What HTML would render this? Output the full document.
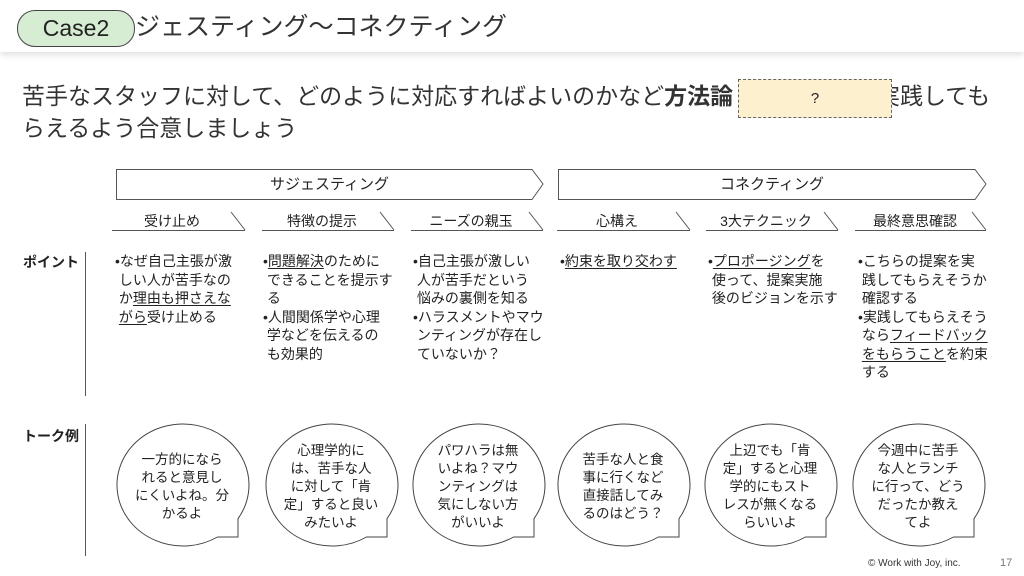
<!DOCTYPE html>
<html><head><meta charset="utf-8"><style>
body{margin:0;width:1024px;height:576px;overflow:hidden;background:#fff;font-family:"Liberation Sans","Noto Sans CJK JP",sans-serif;color:#222;position:relative}
.a{position:absolute}
.hdr{left:0;top:0;width:1024px;height:52px;background:#fff;box-shadow:0 3px 6px rgba(0,0,0,.12)}
.t{font-size:14px;line-height:18.5px;white-space:nowrap}
u{text-decoration:underline;text-underline-offset:2px}
.b{font-size:13.5px;line-height:18px;text-align:center;white-space:nowrap}
</style></head><body>
<div class="a hdr"></div>
<div class="a" style="left:110px;top:9px;font-size:25px;line-height:36px;color:#333;white-space:nowrap">サジェスティング～コネクティング</div>
<div class="a" style="left:17px;top:10px;width:116px;height:35px;border:1px solid #444;border-radius:18px;background:#d6ecd3;font-size:23px;line-height:35px;text-align:center;color:#222">Case2</div>
<div class="a" style="left:22px;top:80px;font-size:23px;line-height:32px;color:#333;white-space:nowrap">苦手なスタッフに対して、どのように対応すればよいのかなど<b>方法論</b><br>らえるよう合意しましょう</div>
<div class="a" style="left:877px;top:80px;font-size:23px;line-height:32px;color:#333;white-space:nowrap">実践しても</div>
<div class="a" style="left:738px;top:79px;width:152px;height:37px;border:1px dashed #666;background:#fdf0cf;font-size:15px;line-height:37px;text-align:center">?</div>
<svg class="a" style="left:0;top:0" width="1024" height="576">
<g fill="none" stroke="#555" stroke-width="1">
<path d="M116.5 169.5H532L543 184L532 199.5H116.5Z"/>
<path d="M558.5 169.5H975L986 184L975 199.5H558.5Z"/>
<path d="M112 230.5H245M231 212L245 230"/>
<path d="M262 230.5H394M380 212L394 230"/>
<path d="M411 230.5H543M529 212L543 230"/>
<path d="M557 230.5H690M676 212L690 230"/>
<path d="M706 230.5H838M824 212L838 230"/>
<path d="M855 230.5H986M972 212L986 230"/>
<path d="M85.5 252V396M85.5 424V556"/>
</g>
<g fill="#fff" stroke="#444" stroke-width="1">
<path d="M238 518.7A66 61 0 1 0 217.5 537L238 537Z"/>
<path d="M387 518.7A66 61 0 1 0 366.5 537L387 537Z"/>
<path d="M534 518.7A66 61 0 1 0 513.5 537L534 537Z"/>
<path d="M679 518.7A66 61 0 1 0 658.5 537L679 537Z"/>
<path d="M826 518.7A66 61 0 1 0 805.5 537L826 537Z"/>
<path d="M974 518.7A66 61 0 1 0 953.5 537L974 537Z"/>
</g>
</svg>
<div class="a" style="left:116px;top:169px;width:427px;line-height:31px;text-align:center;font-size:15px">サジェスティング</div>
<div class="a" style="left:558px;top:169px;width:428px;line-height:31px;text-align:center;font-size:15px">コネクティング</div>
<div class="a" style="left:112px;top:211px;width:120px;text-align:center;font-size:14px">受け止め</div>
<div class="a" style="left:262px;top:211px;width:120px;text-align:center;font-size:14px">特徴の提示</div>
<div class="a" style="left:411px;top:211px;width:120px;text-align:center;font-size:14px">ニーズの親玉</div>
<div class="a" style="left:557px;top:211px;width:120px;text-align:center;font-size:14px">心構え</div>
<div class="a" style="left:706px;top:211px;width:120px;text-align:center;font-size:14px">3大テクニック</div>
<div class="a" style="left:855px;top:211px;width:120px;text-align:center;font-size:14px">最終意思確認</div>
<div class="a t" style="left:23px;top:253px;font-weight:bold">ポイント</div>
<div class="a t" style="left:23px;top:427px;font-weight:bold">トーク例</div>
<div class="a t" style="left:115px;top:252px">•なぜ自己主張が激<br>&nbsp;しい人が苦手なの<br>&nbsp;か<u>理由も押さえな</u><br>&nbsp;<u>がら</u>受け止める</div>
<div class="a t" style="left:263px;top:252px">•<u>問題解決</u>のために<br>&nbsp;できることを提示す<br>&nbsp;る<br>•人間関係学や心理<br>&nbsp;学などを伝えるの<br>&nbsp;も効果的</div>
<div class="a t" style="left:413px;top:252px">•自己主張が激しい<br>&nbsp;人が苦手だという<br>&nbsp;悩みの裏側を知る<br>•ハラスメントやマウ<br>&nbsp;ンティングが存在し<br>&nbsp;ていないか？</div>
<div class="a t" style="left:560px;top:252px">•<u>約束を取り交わす</u></div>
<div class="a t" style="left:708px;top:252px">•<u>プロポージング</u>を<br>&nbsp;使って、提案実施<br>&nbsp;後のビジョンを示す</div>
<div class="a t" style="left:858px;top:252px">•こちらの提案を実<br>&nbsp;践してもらえそうか<br>&nbsp;確認する<br>•実践してもらえそう<br>&nbsp;なら<u>フィードバック</u><br>&nbsp;<u>をもらうこと</u>を約束<br>&nbsp;する</div>
<div class="a b" style="left:132px;top:451px;width:100px">一方的になら<br>れると意見し<br>にくいよね。分<br>かるよ</div>
<div class="a b" style="left:281px;top:442px;width:100px">心理学的に<br>は、苦手な人<br>に対して「肯<br>定」すると良い<br>みたいよ</div>
<div class="a b" style="left:428px;top:442px;width:100px">パワハラは無<br>いよね？マウ<br>ンティングは<br>気にしない方<br>がいいよ</div>
<div class="a b" style="left:573px;top:451px;width:100px">苦手な人と食<br>事に行くなど<br>直接話してみ<br>るのはどう？</div>
<div class="a b" style="left:720px;top:442px;width:100px">上辺でも「肯<br>定」すると心理<br>学的にもスト<br>レスが無くなる<br>らいいよ</div>
<div class="a b" style="left:868px;top:442px;width:100px">今週中に苦手<br>な人とランチ<br>に行って、どう<br>だったか教え<br>てよ</div>
<div class="a" style="left:868px;top:558px;font-size:10px;color:#333">© Work with Joy, inc.</div>
<div class="a" style="left:1000px;top:557px;font-size:11px;color:#777">17</div>
</body></html>
